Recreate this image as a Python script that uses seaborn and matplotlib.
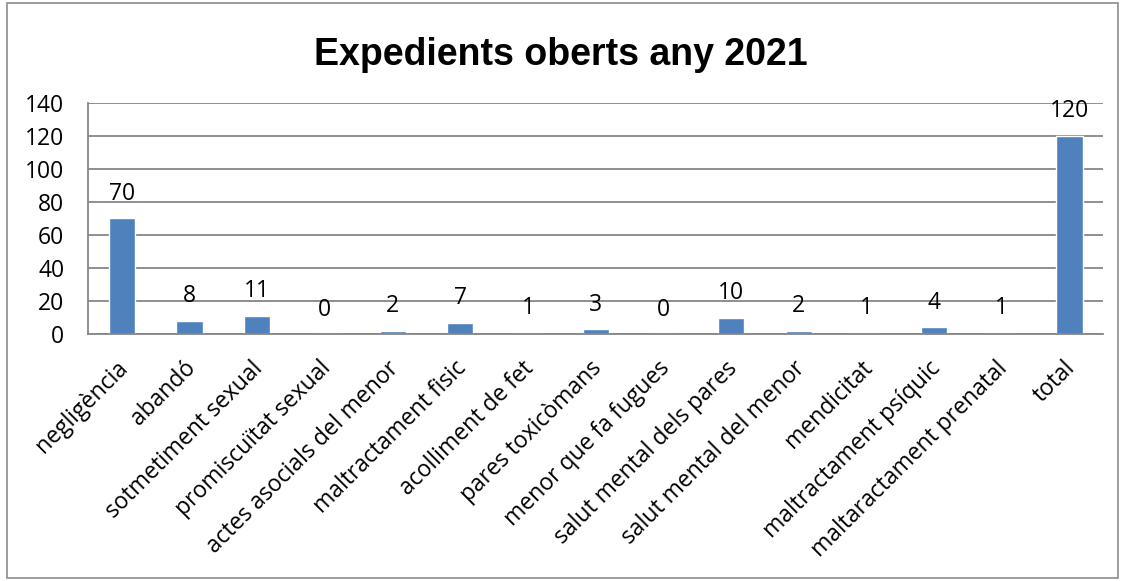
import pandas as pd
import seaborn as sns
import matplotlib.pyplot as plt
import matplotlib.transforms as mtransforms
from matplotlib.patches import Rectangle

# Data
categories = ["negligència", "abandó", "sotmetiment sexual", "promiscuïtat sexual",
              "actes asocials del menor", "maltractament fisic", "acolliment de fet",
              "pares toxicòmans", "menor que fa fugues", "salut mental dels pares",
              "salut mental del menor", "mendicitat", "maltractament psíquic",
              "maltaractament prenatal", "total"]
counts = [70, 8, 11, 0, 2, 7, 1, 3, 0, 10, 2, 1, 4, 1, 120]
y_ticks = [0, 20, 40, 60, 80, 100, 120, 140]

data = pd.DataFrame({"categoria": categories, "expedients": counts})

sns.set_style("white", {"text.color": "black", "xtick.color": "black",
                        "ytick.color": "black"})
plt.rcParams["font.family"] = ["Open Sans", "DejaVu Sans"]

fig = plt.figure(figsize=(11.22, 5.81), dpi=100)
ax = fig.add_axes([0.0784, 0.425, 0.905, 0.398])

sns.barplot(data=data, x="categoria", y="expedients", color="#4F81BD",
            width=0.385, saturation=1, ax=ax)

ax.set_ylim(0, 140)
ax.set_yticks(y_ticks)
ax.yaxis.grid(True, color="#868686", linewidth=1.3)
ax.set_axisbelow(True)
for side in ["top", "right"]:
    ax.spines[side].set_visible(False)
for side in ["left", "bottom"]:
    ax.spines[side].set_color("#868686")
    ax.spines[side].set_linewidth(1.3)
ax.set_xlabel("")
ax.set_ylabel("")
ax.tick_params(axis="y", labelsize=16.5, pad=17, length=0, labelcolor="black")
ax.tick_params(axis="x", labelsize=16.5, length=0, pad=16, labelcolor="black")
plt.setp(ax.get_xticklabels(), rotation=45, ha="right", rotation_mode="anchor")
# nudge rotated labels a little to the left
shift = mtransforms.ScaledTranslation(-6 / 100, 0, fig.dpi_scale_trans)
for lbl in ax.get_xticklabels():
    lbl.set_transform(lbl.get_transform() + shift)

# value labels above bars
for i, v in enumerate(counts):
    ax.annotate(str(v), (i, v), xytext=(0, 9), textcoords="offset points",
                ha="center", va="bottom", fontsize=16.5, color="black")

fig.suptitle("Expedients oberts any 2021", fontsize=27, fontweight="bold",
             family=["Liberation Sans", "DejaVu Sans"], y=0.937, color="black")

# outer frame
fig.patches.append(Rectangle((0.006, 0.006), 0.99, 0.988, transform=fig.transFigure,
                             fill=False, edgecolor="#8c8c8c", linewidth=1.2))

plt.savefig("out.png", dpi=100)
